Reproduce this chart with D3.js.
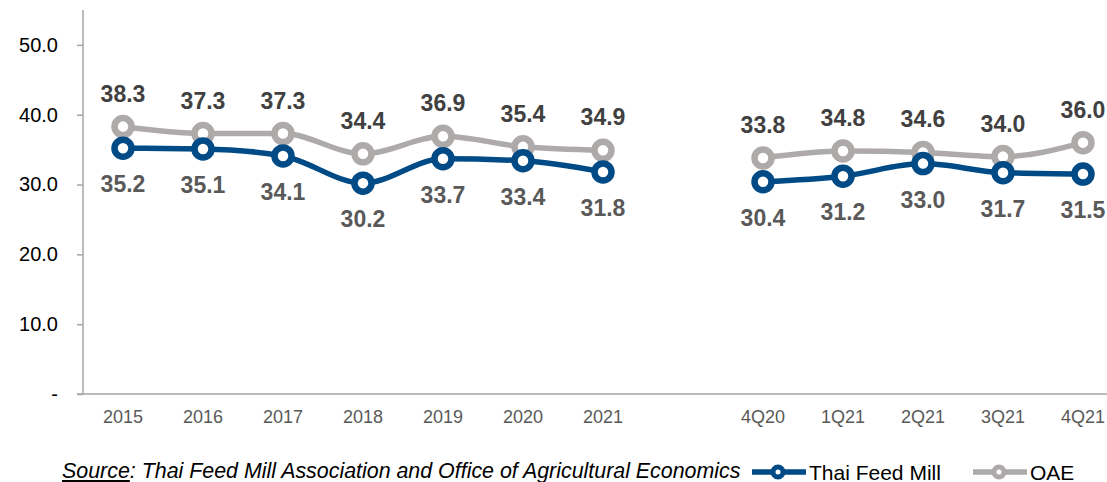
<!DOCTYPE html>
<html>
<head>
<meta charset="utf-8">
<script src="https://cdn.jsdelivr.net/npm/d3@7"></script>
<style>
body { margin: 0; background: #fff; }
text { font-family: "Liberation Sans", Arial, sans-serif; }
</style>
</head>
<body>
<div id="main"></div>
<script>
// categories, blank slot between the annual and the quarterly groups
var categories = ["2015", "2016", "2017", "2018", "2019", "2020", "2021", "",
                  "4Q20", "1Q21", "2Q21", "3Q21", "4Q21"];
var thaiFeedMill = [35.2, 35.1, 34.1, 30.2, 33.7, 33.4, 31.8, null,
                    30.4, 31.2, 33.0, 31.7, 31.5];
var oae = [38.3, 37.3, 37.3, 34.4, 36.9, 35.4, 34.9, null,
           33.8, 34.8, 34.6, 34.0, 36.0];
var yTicks = [0, 10, 20, 30, 40, 50];

var width = 1107, height = 482;
var plotLeft = 83, plotTop = 10, plotBottom = 394;
var navy = "#004a85", grey = "#aeaaaa";

var svg = d3.select("#main")
        .append("svg")
        .attr("width", width)
        .attr("height", height);

var x = d3.scaleBand().domain(categories).range([plotLeft, plotLeft + 80 * categories.length]);
var y = d3.scaleLinear().domain([0, 55]).range([plotBottom, plotTop]);

// y axis
var yAxis = svg.append("g")
        .attr("transform", "translate(" + plotLeft + ",0)")
        .call(d3.axisLeft(y).tickValues(yTicks).tickSize(6)
              .tickFormat(function(d) { return d === 0 ? "-" : d3.format(".1f")(d); }));
yAxis.select(".domain").attr("stroke", "#a6a6a6").attr("stroke-width", 1.5)
    .attr("d", "M0," + plotTop + "V" + plotBottom);
yAxis.selectAll(".tick line").attr("stroke", "#a6a6a6").attr("stroke-width", 1.5);
yAxis.selectAll(".tick text")
    .attr("x", -25)
    .style("font-size", "20px")
    .attr("fill", "#000");

// x axis
var xAxis = svg.append("g")
        .attr("transform", "translate(0," + plotBottom + ")")
        .call(d3.axisBottom(x).tickSize(0));
xAxis.select(".domain").attr("stroke", "#a6a6a6").attr("stroke-width", 1.5)
    .attr("d", "M" + (plotLeft - 6) + ",0H" + width);
xAxis.selectAll(".tick text")
    .attr("y", 29)
    .attr("dy", 0)
    .style("font-size", "18px")
    .attr("fill", "#595959");

var series = [
    {name: "OAE", values: oae, color: grey, labelColor: "#404040", dy: -25},
    {name: "Thai Feed Mill", values: thaiFeedMill, color: navy, labelColor: "#595959", dy: 44}
];

var cx = function(i) { return x(categories[i]) + x.bandwidth() / 2; };

var line = d3.line()
        .defined(function(d) { return d !== null; })
        .x(function(d, i) { return cx(i); })
        .y(function(d) { return y(d); })
        .curve(d3.curveMonotoneX);

series.forEach(function(s) {
    var g = svg.append("g");
    g.append("path")
        .attr("d", line(s.values))
        .attr("fill", "none")
        .attr("stroke", s.color)
        .attr("stroke-width", 5.5);
    var pts = s.values.map(function(v, i) { return {v: v, i: i}; })
            .filter(function(d) { return d.v !== null; });
    g.selectAll("circle")
        .data(pts)
        .enter()
        .append("circle")
        .attr("cx", function(d) { return cx(d.i); })
        .attr("cy", function(d) { return y(d.v); })
        .attr("r", 8.5)
        .attr("fill", "#fff")
        .attr("stroke", s.color)
        .attr("stroke-width", 6.5);
    s.pts = pts;
});

// labels drawn last so they sit over the lines
series.forEach(function(s) {
    svg.append("g").selectAll("text")
        .data(s.pts)
        .enter()
        .append("text")
        .attr("x", function(d) { return cx(d.i); })
        .attr("y", function(d) { return y(d.v) + s.dy; })
        .attr("text-anchor", "middle")
        .style("font-size", "23px")
        .style("font-weight", "bold")
        .attr("fill", s.labelColor)
        .text(function(d) { return d.v.toFixed(1); });
});

// source note
var src = svg.append("text")
        .attr("x", 62)
        .attr("y", 478)
        .style("font-size", "21.4px")
        .style("font-style", "italic")
        .attr("fill", "#000");
src.append("tspan").style("text-decoration", "underline").text("Source");
src.append("tspan").text(": Thai Feed Mill Association and Office of Agricultural Economics");

// legend
var legend = [
    {name: "Thai Feed Mill", color: navy, x: 752},
    {name: "OAE", color: grey, x: 973}
];
legend.forEach(function(l) {
    var g = svg.append("g").attr("transform", "translate(" + l.x + ",472)");
    g.append("line").attr("x1", 0).attr("x2", 54)
        .attr("stroke", l.color).attr("stroke-width", 5.5);
    g.append("circle").attr("cx", 26).attr("r", 5)
        .attr("fill", "#fff").attr("stroke", l.color).attr("stroke-width", 5);
    g.append("text").attr("x", 57).attr("y", 7.5)
        .style("font-size", "21px").attr("fill", "#000")
        .text(l.name);
});
</script>
</body>
</html>
